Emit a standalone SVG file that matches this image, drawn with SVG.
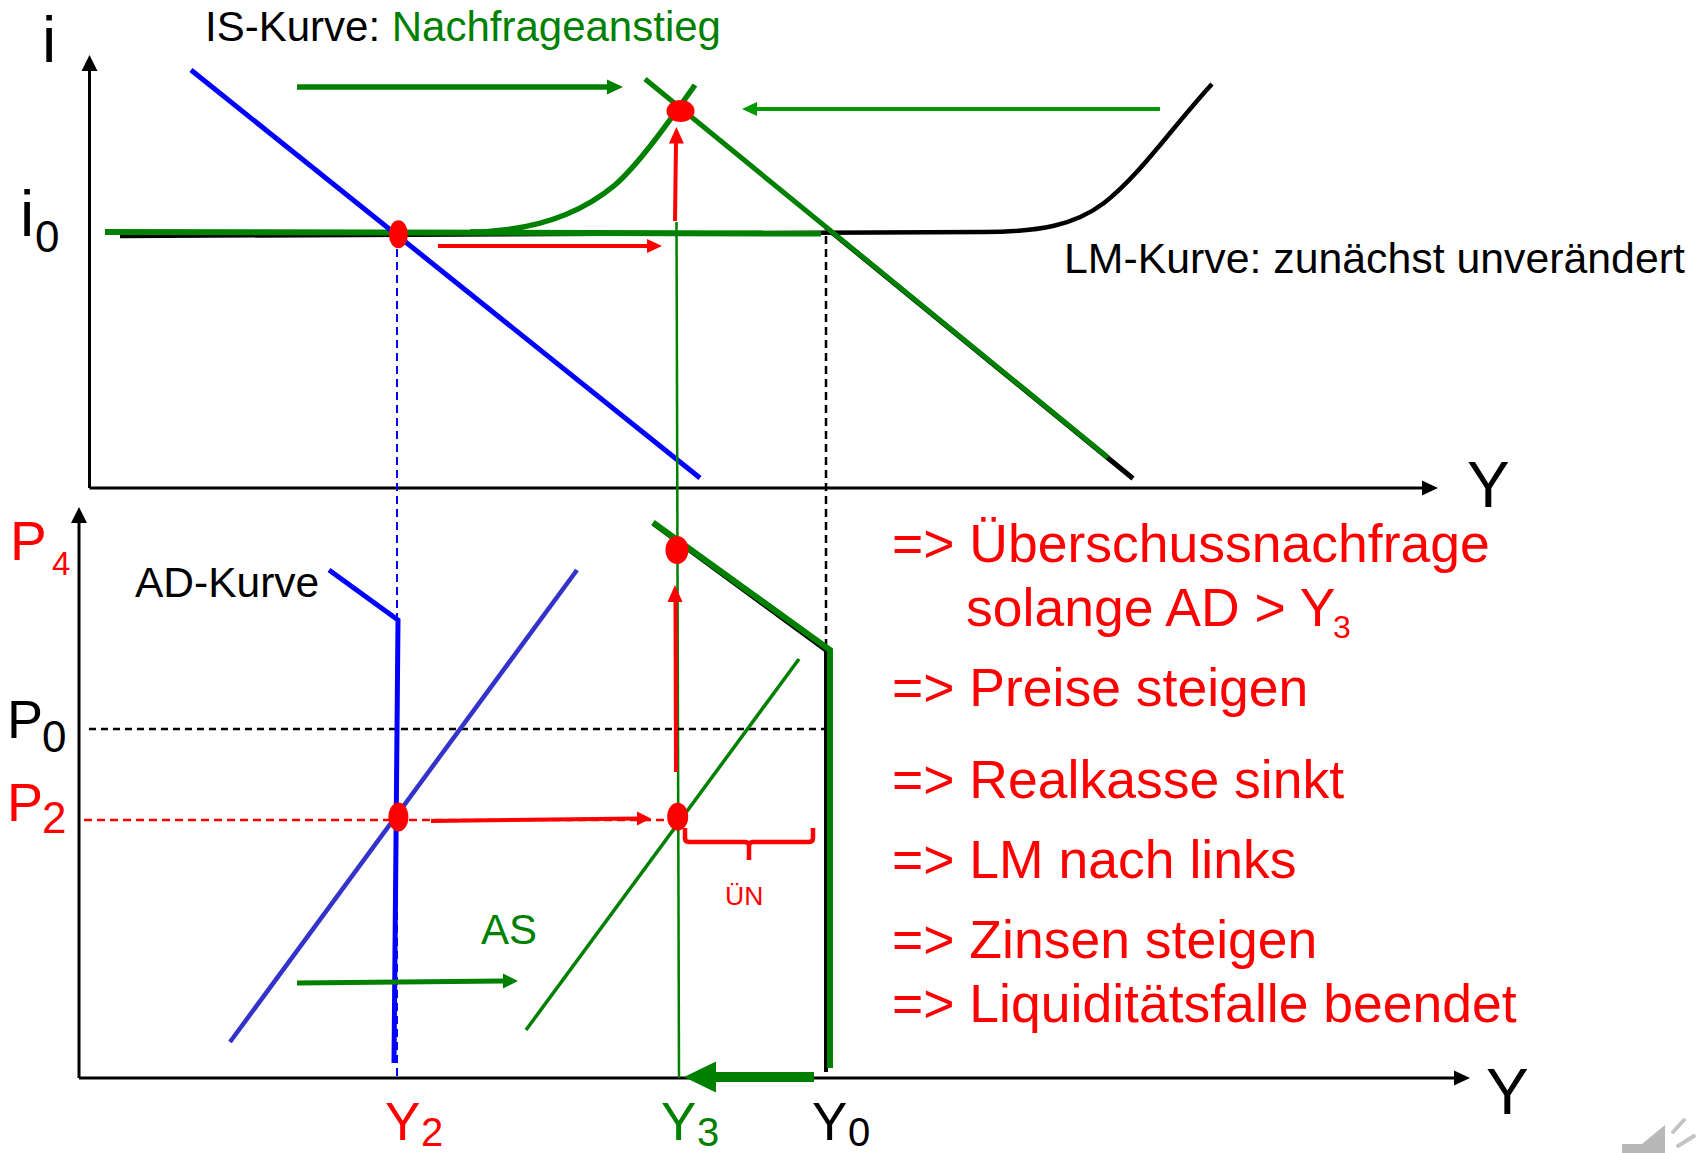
<svg xmlns="http://www.w3.org/2000/svg" width="1701" height="1153" viewBox="0 0 1701 1153">
<style>
text{font-family:"Liberation Sans",Arial,sans-serif}
.ax{stroke:#000;stroke-width:3;fill:none}
.blk{fill:#000}
.red{fill:#ff0000}
.grn{fill:#008000}
.ln{fill:none;stroke-linecap:butt}
.dot{fill:#ff0000}
</style>
<rect width="1701" height="1153" fill="#fff"/>
<g id="axes">
<path class="ax" d="M89.5,488 V70 M89.5,488 H1424"/>
<polygon class="blk" points="89.5,55 81.5,71 97.5,71"/>
<polygon class="blk" points="1438,488 1422,480.5 1422,495.5"/>
<path class="ax" d="M79,1078 V522 M79,1078 H1456"/>
<polygon class="blk" points="79,507 71,523 87,523"/>
<polygon class="blk" points="1470,1078 1454,1070.5 1454,1085.5"/>
</g>
<g id="connectors">
<!-- top panel -->
<path class="ln" d="M120,236 L983,232 C1040,232 1075,225 1104,203 C1140,175 1170,130 1212,84" stroke="#000" stroke-width="4.5"/>
<path class="ln" d="M826,227.5 L1133,478.5" stroke="#000" stroke-width="5"/>
<path class="ln" d="M645,79 L1108,457.5" stroke="#008000" stroke-width="5"/>
<path class="ln" d="M105,232 L821,233.5" stroke="#008000" stroke-width="6"/>
<path class="ln" d="M470,232 C540,231.5 585,210 615,185 C640,163 670,120 695,85" stroke="#008000" stroke-width="5.5"/>
<path class="ln" d="M191,70 L700,478" stroke="#0000ff" stroke-width="5"/>
<path class="ln" d="M397,236 V1078" stroke="#0000ff" stroke-width="2" stroke-dasharray="8,5"/>
<path class="ln" d="M826,236 V651" stroke="#000" stroke-width="2.5" stroke-dasharray="8,5"/>
<path class="ln" d="M676.5,222 L679,1078" stroke="#008000" stroke-width="2.5"/>
<path class="ln" d="M438,246 H648" stroke="#ff0000" stroke-width="4"/>
<polygon class="red" points="662,246 647,239 647,253"/>
<path class="ln" d="M675,221 L676,142" stroke="#ff0000" stroke-width="4"/>
<polygon class="red" points="676.4,127 668.9,143.5 683.9,143.5"/>
<path class="ln" d="M297,87 H608" stroke="#008000" stroke-width="5.5"/>
<polygon class="grn" points="623,87 607,79.5 607,94.5"/>
<path class="ln" d="M1160,109 H756" stroke="#009900" stroke-width="4"/>
<polygon fill="#009900" points="742,109 757,102 757,116"/>
<!-- bottom panel -->
<path class="ln" d="M89,729 H826" stroke="#000" stroke-width="2.5" stroke-dasharray="7,5"/>
<path class="ln" d="M84,820 H670" stroke="#ff0000" stroke-width="2.5" stroke-dasharray="8,5"/>
<path class="ln" d="M329,570 L398,620 L394,1063" stroke="#0000ff" stroke-width="5"/>
<path class="ln" d="M230,1042 L577,570" stroke="#3333cc" stroke-width="4.5"/>
<path class="ln" d="M526,1030 L799,659" stroke="#008000" stroke-width="3.5"/>
<path class="ln" d="M653,524 L827,651.5 M826,651 V1072" stroke="#000" stroke-width="4"/>
<path class="ln" d="M653,522.5 L830,650 V1068" stroke="#008000" stroke-width="6"/>
<path class="ln" d="M431,821 L638,818.5" stroke="#ff0000" stroke-width="4"/>
<polygon class="red" points="651,818.5 637,811.5 637,825.5"/>
<path class="ln" d="M676,772 L675.5,601" stroke="#ff0000" stroke-width="4"/>
<polygon class="red" points="675,585 667.5,602 682.5,602"/>
<path class="ln" d="M685,828 V838 Q685,842 689,842 H745 Q749,842 749,846 V860 M749,846 Q749,842 753,842 H809 Q813,842 813,838 V828" stroke="#ff0000" stroke-width="4.5" stroke-linecap="round"/>
<path class="ln" d="M297,983 L503,981" stroke="#008000" stroke-width="5"/>
<polygon class="grn" points="518,981 503,973.5 503,988.5"/>
<path class="ln" d="M814,1077 H714" stroke="#008000" stroke-width="10"/>
<polygon class="grn" points="684,1077 716,1061.5 716,1092.5"/>
</g>
<g id="dots">
<ellipse class="dot" cx="680.5" cy="111" rx="14" ry="11"/>
<ellipse class="dot" cx="398.4" cy="234.3" rx="9.5" ry="14"/>
<ellipse class="dot" cx="677" cy="550" rx="11.5" ry="14"/>
<ellipse class="dot" cx="398.4" cy="817" rx="10" ry="14.5"/>
<ellipse class="dot" cx="677.7" cy="816.7" rx="10.5" ry="14"/>
</g>
<g id="labels-top">
<text x="42" y="62" font-size="64">i</text>
<text x="20" y="236" font-size="64">i<tspan x="35" y="252" font-size="44">0</tspan></text>
<text x="205" y="41" font-size="42">IS-Kurve: <tspan fill="#008000">Nachfrageanstieg</tspan></text>
<text x="1064" y="273" font-size="42.8">LM-Kurve: zunächst unverändert</text>
<text x="1467" y="507" font-size="64">Y</text>
</g>
<g id="labels-bottom">
<text x="10" y="560" font-size="55" fill="#ff0000">P<tspan x="52" y="575" font-size="33">4</tspan></text>
<text x="7" y="738" font-size="54">P<tspan x="42" y="752" font-size="44">0</tspan></text>
<text x="7" y="821" font-size="54" fill="#ff0000">P<tspan x="42" y="833" font-size="44">2</tspan></text>
<text x="135" y="597" font-size="42.5">AD-Kurve</text>
<text x="481" y="944" font-size="42" fill="#008000">AS</text>
<text x="725" y="905" font-size="26.5" fill="#ff0000">ÜN</text>
<text x="385" y="1140" font-size="53" fill="#ff0000">Y<tspan x="421" y="1146" font-size="40">2</tspan></text>
<text x="661" y="1140" font-size="53" fill="#008000">Y<tspan x="697" y="1146" font-size="40">3</tspan></text>
<text x="812" y="1140" font-size="53">Y<tspan x="848" y="1146" font-size="40">0</tspan></text>
<text x="1486" y="1114" font-size="64">Y</text>
</g>
<g id="explanation" fill="#ff0000" font-size="53.5">
<text x="892" y="562">=&gt; Überschussnachfrage</text>
<text x="966" y="626">solange AD &gt; Y<tspan x="1333" y="638" font-size="32">3</tspan></text>
<text x="892" y="706">=&gt; Preise steigen</text>
<text x="892" y="798">=&gt; Realkasse sinkt</text>
<text x="892" y="878">=&gt; LM nach links</text>
<text x="892" y="958">=&gt; Zinsen steigen</text>
<text x="892" y="1022">=&gt; Liquiditätsfalle beendet</text>
</g>
<g id="speaker" fill="#b8b8b8">
<polygon points="1622,1153 1622,1144 1642,1144 1665,1125 1665,1153"/>
<path d="M1673,1132 L1684,1120 M1678,1146 L1694,1136" stroke="#c4c4c4" stroke-width="4" stroke-linecap="round" fill="none"/>
</g>
</svg>
